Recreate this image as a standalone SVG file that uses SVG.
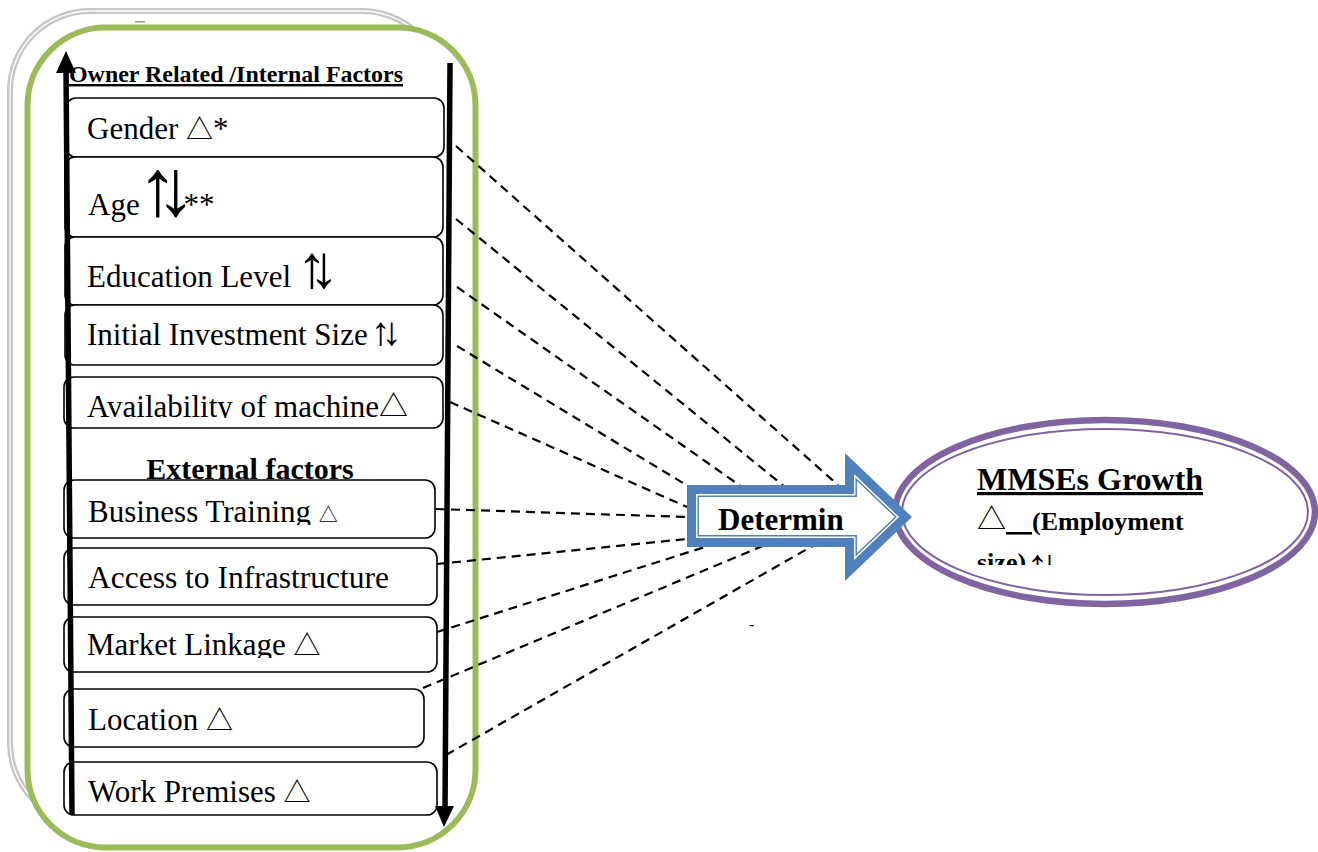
<svg xmlns="http://www.w3.org/2000/svg" width="1318" height="852" viewBox="0 0 1318 852">
<style>
.box{fill:#fff;stroke:#000;stroke-width:1.6}
.t{font-family:"Liberation Serif","Times New Roman",serif;fill:#000}
.b{font-weight:bold}
.u{text-decoration:underline}
.tri{font-family:"Noto Sans CJK SC","DejaVu Sans",sans-serif;font-weight:normal}
.arr{font-family:"Liberation Serif","DejaVu Sans",serif;font-weight:normal}
#connectors line{stroke:#000;stroke-width:2.2;stroke-dasharray:9 6;fill:none}
.vline{stroke:#000;stroke-width:5.5;fill:none}
</style>
<defs>
<clipPath id="cAvail"><rect x="60" y="370" width="400" height="48"/></clipPath>
<clipPath id="cBiz"><rect x="60" y="485" width="400" height="40"/></clipPath>
<clipPath id="cMarket"><rect x="60" y="620" width="400" height="38"/></clipPath>
<clipPath id="cExt"><rect x="100" y="440" width="300" height="41"/></clipPath>
<clipPath id="cSize"><rect x="960" y="540" width="200" height="25"/></clipPath>
</defs>
<rect width="1318" height="852" fill="#fff"/>

<g id="frame">
<rect x="10" y="11" width="432" height="812" rx="80" fill="none" stroke="#c6c6c6" stroke-width="6"/>
<rect x="10" y="11" width="432" height="812" rx="80" fill="none" stroke="#fff" stroke-width="1.3"/>
<rect x="27.5" y="27.5" width="448" height="820" rx="78" fill="#fff" stroke="#9BBB59" stroke-width="6"/>
<rect x="135" y="21" width="10" height="1.5" fill="#999"/>
</g>

<g id="title-internal">
<text class="t b u" x="69" y="82" font-size="24" textLength="334" lengthAdjust="spacingAndGlyphs">Owner Related /Internal Factors</text>
</g>

<g id="n-gender">
<rect class="box" x="66" y="98" width="378" height="59" rx="10"/>
<text class="t" x="87" y="139" font-size="31">Gender <tspan class="tri" font-size="27">△</tspan>*</text>
</g>
<g id="n-age">
<rect class="box" x="65" y="157" width="378" height="80" rx="10"/>
<text class="t" x="88" y="215" font-size="31">Age <tspan class="arr" font-size="80" dx="-10">↑</tspan><tspan class="arr" font-size="80" dx="-22">↓</tspan><tspan dx="-12">**</tspan></text>
</g>
<g id="n-education">
<rect class="box" x="65" y="237" width="378" height="68" rx="10"/>
<text class="t" x="87" y="287" font-size="31">Education Level <tspan class="arr" font-size="60" dx="-2">↑</tspan><tspan class="arr" font-size="60" dx="-18">↓</tspan></text>
</g>
<g id="n-investment">
<rect class="box" x="65" y="305" width="378" height="60" rx="10"/>
<text class="t" x="87" y="345" font-size="31">Initial Investment Size<tspan class="arr" font-size="40" dx="3">↑</tspan><tspan class="arr" font-size="40" dx="-9">↓</tspan></text>
</g>
<g id="n-machine">
<rect class="box" x="64" y="377" width="379" height="51" rx="10"/>
<text class="t" x="87" y="417" font-size="31" clip-path="url(#cAvail)">Availability of machine<tspan class="tri" font-size="29">△</tspan></text>
</g>

<g id="title-external">
<text class="t b" x="250" y="479" text-anchor="middle" font-size="30" clip-path="url(#cExt)">External factors</text>
</g>

<g id="n-training">
<rect class="box" x="64" y="480" width="371" height="58" rx="10"/>
<text class="t" x="88" y="522" font-size="31" clip-path="url(#cBiz)">Business Training <tspan class="tri" font-size="19">△</tspan></text>
</g>
<g id="n-infrastructure">
<rect class="box" x="64" y="548" width="373" height="57" rx="10"/>
<text class="t" x="88" y="588" font-size="31.5">Access to Infrastructure</text>
</g>
<g id="n-market">
<rect class="box" x="64" y="617" width="373" height="55" rx="10"/>
<text class="t" x="87" y="655" font-size="31" clip-path="url(#cMarket)">Market Linkage <tspan class="tri" font-size="27">△</tspan></text>
</g>
<g id="n-location">
<rect class="box" x="64" y="689" width="360" height="58" rx="10"/>
<text class="t" x="88" y="730" font-size="31">Location <tspan class="tri" font-size="27">△</tspan></text>
</g>
<g id="n-premises">
<rect class="box" x="64" y="762" width="373" height="53" rx="10"/>
<text class="t" x="88" y="802" font-size="31">Work Premises <tspan class="tri" font-size="27">△</tspan></text>
</g>

<g id="side-arrows">
<line class="vline" x1="66" y1="68" x2="72" y2="815"/>
<polygon points="66,51 56,73 76,73" fill="#000"/>
<line class="vline" x1="450" y1="63" x2="445" y2="810"/>
<polygon points="444,827 435,806 454,806" fill="#000"/>
</g>

<g id="connectors">
<line x1="456" y1="146" x2="838" y2="485"/>
<line x1="456" y1="219" x2="785" y2="487"/>
<line x1="457" y1="287" x2="742" y2="487"/>
<line x1="457" y1="346" x2="688" y2="486"/>
<line x1="450" y1="402" x2="687" y2="507"/>
<line x1="436" y1="509" x2="687" y2="517"/>
<line x1="437" y1="564" x2="687" y2="539"/>
<line x1="437" y1="632" x2="727" y2="540"/>
<line x1="423" y1="688" x2="777" y2="540"/>
<line x1="446" y1="755" x2="823" y2="540"/>
</g>

<g id="n-growth">
<ellipse cx="1105" cy="512" rx="210" ry="92" fill="#fff" stroke="#8064A2" stroke-width="6.5"/>
<ellipse cx="1105" cy="512" rx="203" ry="83" fill="none" stroke="#8064A2" stroke-width="2"/>
<text class="t b u" x="977" y="490" font-size="32">MMSEs Growth</text>
<text class="t b" x="977" y="530" font-size="26"><tspan class="tri" font-size="29">△</tspan><tspan class="u">&#160;&#160;&#160;&#160;</tspan>(Employment</text>
<text class="t b" x="977" y="571" font-size="26" clip-path="url(#cSize)">size) <tspan class="arr" font-size="44" dx="-6" dy="9">↑</tspan><tspan class="arr" font-size="44" dx="-10">↓</tspan></text>
</g>

<g id="n-determin">
<polygon points="687,485 845,485 845,453 912,517 845,581 845,547 687,547" fill="#4F81BD"/>
<polygon points="696,494 854,494 854,474 899,517 854,560 854,538 696,538" fill="#fff"/>
<polygon points="698.2,496.2 856.2,496.2 856.2,479.2 895.8,517 856.2,554.8 856.2,535.8 698.2,535.8" fill="#fff" stroke="#4F81BD" stroke-width="1.5"/>
<text class="t b" x="718" y="530" font-size="31">Determin</text>
</g>

<g id="stray-mark">
<text class="t" x="749" y="630" font-size="16">-</text>
</g>
</svg>
